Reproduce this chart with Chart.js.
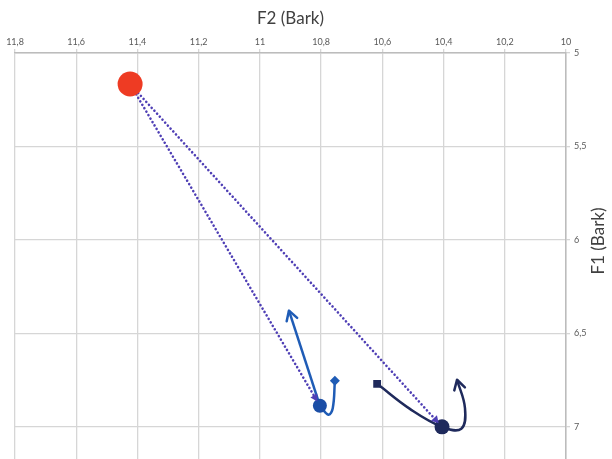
<!DOCTYPE html>
<html>
<head>
<meta charset="utf-8">
<script src="https://cdn.jsdelivr.net/npm/chart.js@4/dist/chart.umd.min.js"></script>
<style>
  html, body { margin: 0; background: #fff; overflow: hidden; }
  canvas { display: block; }
</style>
</head>
<body>
<canvas id="myChart" width="612" height="473"></canvas>
<script>
const ctx = document.getElementById('myChart')

// axis ranges (Bark)
const f2Range = [10, 11.8]
const f1Range = [5, 7.18]
const f2Step = 0.2
const f1Step = 0.5

// starting vowel
const startX = [11.424]
const startY = [5.166]

// first target: circle plus the hooked trajectory and arrow
const blueCircleX = [10.804]
const blueCircleY = [6.887]
const blueDiamondX = [10.755]
const blueDiamondY = [6.753]
const blueCurveX = [10.755, 10.762, 10.776, 10.804]
const blueCurveY = [6.753, 6.9, 6.935, 6.887]
const blueArrowX = [10.804, 10.905]
const blueArrowY = [6.887, 6.378]

// second target
const navyCircleX = [10.405]
const navyCircleY = [7.0]
const navySquareX = [10.617]
const navySquareY = [6.77]
const navyCurveX = [10.617, 10.51, 10.405, 10.342, 10.33, 10.356]
const navyCurveY = [6.77, 6.904, 7.0, 7.01, 6.9, 6.748]

const red = '#ee3b23'
const blue = '#1f5cb6'
const navy = '#1f2a5c'
const purple = '#4f3fb5'

const pts = function (xs, ys) {
  return xs.map((x, i) => ({ x, y: ys[i] }))
}

const commaLabel = function (v) {
  return String(Math.round(v * 10) / 10).replace('.', ',')
}

// arrowheads at the last point of any dataset flagged with `arrow`
const arrowPlugin = {
  id: 'arrows',
  afterDatasetsDraw(chart) {
    const c = chart.ctx
    chart.data.datasets.forEach((ds, i) => {
      if (!ds.arrow) return
      const data = chart.getDatasetMeta(i).data
      const end = data[data.length - 1]
      let from = data[data.length - 2]
      if (end.cp1x !== undefined && (end.cp1x !== end.x || end.cp1y !== end.y)) {
        from = { x: end.cp1x, y: end.cp1y }
      }
      const ang = Math.atan2(end.y - from.y, end.x - from.x)
      const back = ds.arrowBack || 0
      const tx = end.x - Math.cos(ang) * back
      const ty = end.y - Math.sin(ang) * back
      const len = ds.arrowSize || 10
      const spread = Math.PI / 6
      const ax = tx - Math.cos(ang - spread) * len
      const ay = ty - Math.sin(ang - spread) * len
      const bx = tx - Math.cos(ang + spread) * len
      const by = ty - Math.sin(ang + spread) * len
      c.save()
      c.strokeStyle = ds.borderColor
      c.fillStyle = ds.borderColor
      c.lineWidth = ds.borderWidth
      c.lineCap = 'round'
      c.lineJoin = 'round'
      c.setLineDash([])
      c.beginPath()
      c.moveTo(ax, ay)
      c.lineTo(tx, ty)
      c.lineTo(bx, by)
      if (ds.arrow === 'solid') {
        c.closePath()
        c.fill()
      } else {
        c.stroke()
      }
      c.restore()
    })
  },
}

// right-hand axis title, reading bottom to top
const sideTitle = {
  id: 'sideTitle',
  afterDraw(chart) {
    const c = chart.ctx
    c.save()
    c.translate(599, chart.chartArea.top + 188)
    c.rotate(-Math.PI / 2)
    c.font = '17px Lato'
    c.fillStyle = '#404040'
    c.textAlign = 'center'
    c.textBaseline = 'middle'
    c.fillText('F1 (Bark)', 0, 0)
    c.restore()
  },
}

const marker = function (xs, ys, color, style, radius) {
  return {
    data: pts(xs, ys),
    pointStyle: style,
    pointRadius: radius,
    pointBackgroundColor: color,
    pointBorderColor: color,
    pointBorderWidth: 0,
    showLine: false,
  }
}

const path = function (xs, ys, color, opts) {
  return Object.assign({
    data: pts(xs, ys),
    showLine: true,
    borderColor: color,
    borderWidth: 2.5,
    pointRadius: 0,
    tension: 0,
    arrow: 'open',
    arrowSize: 11,
  }, opts)
}

new Chart(ctx, {
  type: 'scatter',
  data: {
    datasets: [
      marker(startX, startY, red, 'circle', 12.5),
      marker(blueCircleX, blueCircleY, '#1b4ea6', 'circle', 7),
      marker(navyCircleX, navyCircleY, navy, 'circle', 7.5),
      marker(blueDiamondX, blueDiamondY, blue, 'rectRot', 5),
      marker(navySquareX, navySquareY, navy, 'rect', 5.5),
      path(blueCurveX, blueCurveY, blue, { tension: 0.4, arrow: false }),
      path(blueArrowX, blueArrowY, blue, {}),
      path(navyCurveX, navyCurveY, navy, { tension: 0.4 }),
      path([startX[0], blueCircleX[0]], [startY[0], blueCircleY[0]], purple, {
        borderWidth: 2.6, borderDash: [0.01, 4], borderCapStyle: 'round',
        arrow: 'solid', arrowSize: 8, arrowBack: 5,
      }),
      path([startX[0], navyCircleX[0]], [startY[0], navyCircleY[0]], purple, {
        borderWidth: 2.6, borderDash: [0.01, 4], borderCapStyle: 'round',
        arrow: 'solid', arrowSize: 8, arrowBack: 5,
      }),
    ],
  },
  options: {
    responsive: false,
    animation: false,
    events: [],
    layout: { padding: { left: 15, right: 0, top: 0, bottom: 0 } },
    plugins: { legend: { display: false }, tooltip: { enabled: false } },
    scales: {
      x: {
        type: 'linear',
        position: 'top',
        reverse: true,
        min: f2Range[0],
        max: f2Range[1],
        afterFit: (scale) => { scale.height = 53 },
        ticks: {
          stepSize: f2Step,
          padding: 2,
          maxRotation: 0,
          color: '#595959',
          font: { family: 'Lato', size: 9 },
          callback: commaLabel,
        },
        grid: { color: '#d6d6d6', lineWidth: 1.3, tickLength: 4 },
        border: { color: '#bcbcbc', width: 1.5 },
        title: {
          display: true,
          text: 'F2 (Bark)',
          color: '#404040',
          font: { family: 'Lato', size: 17 },
          padding: { top: 8, bottom: 0 },
        },
      },
      y: {
        type: 'linear',
        position: 'right',
        reverse: true,
        min: f1Range[0],
        max: f1Range[1],
        afterFit: (scale) => { scale.width = 46 },
        afterBuildTicks: (scale) => {
          scale.ticks = scale.ticks.filter((t) => Math.abs(t.value / f1Step - Math.round(t.value / f1Step)) < 1e-6)
        },
        ticks: {
          stepSize: f1Step,
          padding: 4,
          color: '#595959',
          font: { family: 'Lato', size: 9 },
          callback: commaLabel,
        },
        grid: { color: '#d6d6d6', lineWidth: 1.3, tickLength: 4 },
        border: { color: '#bcbcbc', width: 1.5 },
      },
    },
  },
  plugins: [arrowPlugin, sideTitle],
})
</script>
</body>
</html>
